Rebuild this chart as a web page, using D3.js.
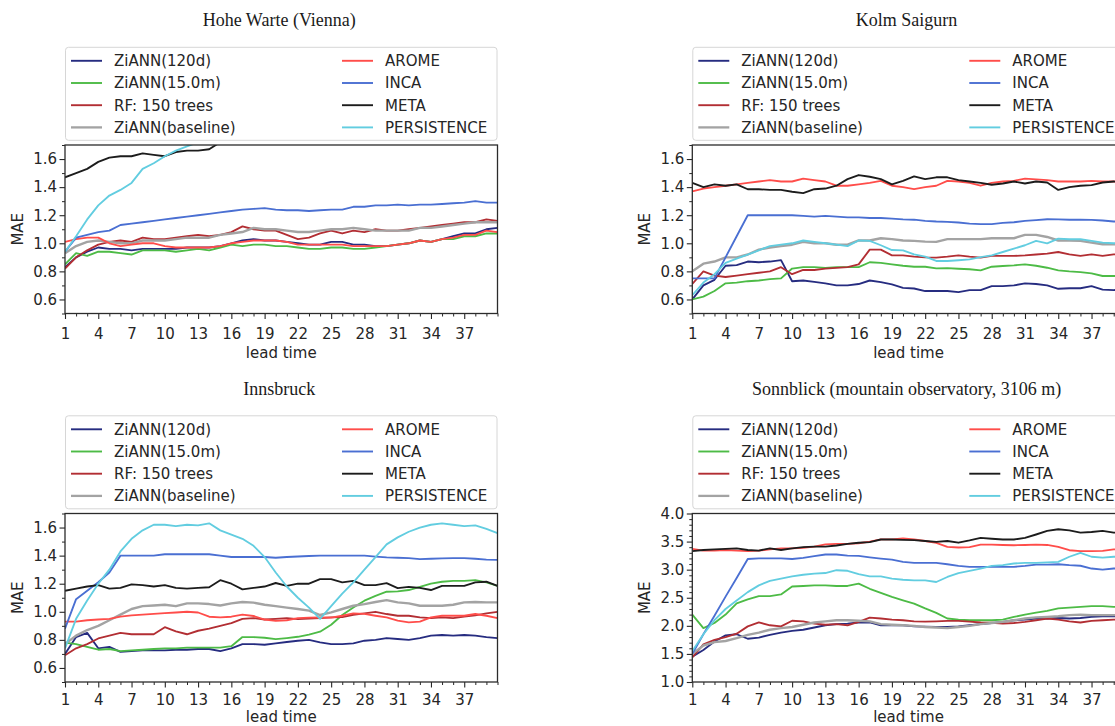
<!DOCTYPE html>
<html>
<head>
<meta charset="utf-8">
<script src="https://cdn.jsdelivr.net/npm/d3@7"></script>
<style>
  html, body { margin: 0; padding: 0; background: #fff; }
  svg { display: block; }
</style>
</head>
<body>
<svg id="chart" width="1115" height="726"></svg>
<script>
// ---- data -------------------------------------------------------------
const leadTimes = [1,2,3,4,5,6,7,8,9,10,11,12,13,14,15,16,17,18,19,20,
                   21,22,23,24,25,26,27,28,29,30,31,32,33,34,35,36,37,38,39,40];
const xTickLabels = [1,4,7,10,13,16,19,22,25,28,31,34,37];
const yTicksLowland = [0.6,0.8,1.0,1.2,1.4,1.6];
const yTicksSonnblick = [1.0,1.5,2.0,2.5,3.0,3.5,4.0];

const seriesNames = ["ZiANN(120d)","ZiANN(15.0m)","RF: 150 trees","ZiANN(baseline)",
                     "AROME","INCA","META","PERSISTENCE"];
const seriesColors = ["#262c80","#4dbb46","#b22e33","#a3a3a3",
                      "#ff4d4a","#4a6fd2","#1c1c1c","#62cde0"];

// Hohe Warte (Vienna)
const hohe120d = [0.83,0.90,0.94,0.97,0.96,0.96,0.95,0.96,0.96,0.96,0.96,0.97,0.97,0.97,0.98,1.00,1.02,1.03,1.02,1.02,
                  1.01,1.00,0.99,0.99,1.01,1.01,0.99,0.99,0.98,0.98,0.99,1.00,1.02,1.01,1.03,1.05,1.07,1.07,1.10,1.11];
const hohe15m  = [0.85,0.93,0.91,0.94,0.94,0.93,0.92,0.95,0.95,0.95,0.94,0.95,0.96,0.95,0.97,0.99,0.98,0.99,0.99,0.98,
                  0.98,0.97,0.96,0.96,0.97,0.97,0.96,0.96,0.97,0.98,0.99,1.00,1.02,1.01,1.03,1.03,1.05,1.05,1.07,1.07];
const hoheRF   = [0.82,0.90,0.95,0.99,1.01,1.02,1.01,1.04,1.03,1.03,1.04,1.05,1.06,1.05,1.06,1.08,1.12,1.10,1.09,1.09,
                  1.06,1.03,1.04,1.07,1.09,1.07,1.09,1.08,1.10,1.09,1.09,1.10,1.11,1.12,1.13,1.14,1.15,1.15,1.17,1.16];
const hoheBase = [0.93,0.98,1.01,1.02,1.01,1.00,1.00,1.02,1.02,1.02,1.03,1.04,1.04,1.04,1.06,1.07,1.08,1.11,1.10,1.10,
                  1.09,1.08,1.08,1.09,1.10,1.10,1.11,1.10,1.09,1.09,1.09,1.09,1.11,1.11,1.12,1.13,1.14,1.15,1.15,1.15];
const hoheArome= [1.01,1.03,1.04,1.04,1.00,0.98,0.99,1.00,1.00,0.98,0.97,0.97,0.97,0.97,0.98,1.00,1.01,1.02,1.02,1.02,
                  1.01,0.99,0.99,0.99,0.99,0.99,0.98,0.98,0.98,0.98,0.99,1.00,1.02,1.01,1.03,1.04,1.06,1.06,1.09,1.08];
const hoheInca = [0.94,1.04,1.06,1.08,1.09,1.13,1.14,1.15,1.16,1.17,1.18,1.19,1.20,1.21,1.22,1.23,1.24,1.245,1.25,1.24,
                  1.235,1.235,1.23,1.235,1.24,1.24,1.26,1.26,1.27,1.27,1.275,1.27,1.275,1.275,1.28,1.285,1.29,1.30,1.29,1.29];
const hoheMeta = [1.47,1.50,1.53,1.58,1.61,1.62,1.62,1.64,1.63,1.62,1.65,1.66,1.66,1.67,1.72,1.74,1.75,1.76,1.76,1.77,
                  1.78,1.78,1.79,1.80,1.80,1.81,1.81,1.82,1.82,1.83,1.83,1.84,1.84,1.85,1.85,1.86,1.86,1.87,1.87,1.88];
const hohePers = [0.94,1.05,1.17,1.27,1.34,1.38,1.43,1.53,1.57,1.62,1.66,1.69,1.72,1.75,1.78,1.81,1.84,1.87,1.90,1.92,
                  1.94,1.96,1.98,2.00,2.01,2.02,2.03,2.04,2.05,2.06,2.07,2.08,2.09,2.10,2.10,2.11,2.12,2.12,2.13,2.13];

// Kolm Saigurn
const kolm120d = [0.60,0.70,0.74,0.84,0.845,0.87,0.865,0.87,0.88,0.73,0.735,0.725,0.715,0.70,0.70,0.71,0.735,0.724,0.707,0.683,
                  0.678,0.66,0.66,0.66,0.652,0.667,0.667,0.695,0.695,0.70,0.714,0.71,0.70,0.676,0.68,0.68,0.695,0.67,0.667,0.67];
const kolm15m  = [0.60,0.62,0.66,0.715,0.72,0.73,0.735,0.745,0.75,0.82,0.83,0.83,0.825,0.83,0.83,0.83,0.865,0.86,0.85,0.84,
                  0.833,0.833,0.821,0.823,0.819,0.815,0.807,0.833,0.838,0.843,0.85,0.84,0.826,0.807,0.80,0.795,0.786,0.767,0.767,0.77];
const kolmRF   = [0.71,0.80,0.77,0.76,0.77,0.78,0.79,0.80,0.83,0.78,0.81,0.81,0.82,0.825,0.83,0.85,0.955,0.955,0.914,0.914,
                  0.905,0.90,0.898,0.905,0.914,0.905,0.898,0.91,0.91,0.91,0.914,0.92,0.926,0.938,0.921,0.91,0.921,0.91,0.921,0.92];
const kolmBase = [0.80,0.855,0.87,0.90,0.90,0.92,0.955,0.97,0.98,0.99,1.01,1.00,1.00,0.99,0.99,1.02,1.02,1.036,1.03,1.02,
                  1.017,1.012,1.01,1.03,1.03,1.03,1.03,1.036,1.036,1.036,1.06,1.06,1.045,1.02,1.02,1.017,1.005,0.993,0.993,0.99];
const kolmArome= [1.37,1.39,1.40,1.41,1.42,1.43,1.44,1.45,1.44,1.44,1.46,1.45,1.44,1.41,1.41,1.42,1.43,1.445,1.41,1.40,
                  1.386,1.40,1.41,1.445,1.44,1.43,1.41,1.43,1.44,1.445,1.46,1.455,1.45,1.44,1.44,1.44,1.445,1.44,1.44,1.44];
const kolmInca = [0.75,0.75,0.75,0.90,1.05,1.20,1.20,1.20,1.20,1.20,1.195,1.19,1.195,1.19,1.185,1.185,1.18,1.18,1.176,1.17,
                  1.168,1.16,1.155,1.152,1.148,1.14,1.136,1.136,1.145,1.15,1.16,1.165,1.171,1.17,1.168,1.168,1.167,1.162,1.155,1.155];
const kolmMeta = [1.43,1.40,1.42,1.41,1.42,1.385,1.385,1.38,1.38,1.367,1.357,1.385,1.39,1.41,1.457,1.486,1.474,1.457,1.42,1.445,
                  1.476,1.457,1.47,1.47,1.45,1.44,1.43,1.417,1.426,1.44,1.426,1.44,1.433,1.38,1.40,1.41,1.414,1.433,1.44,1.43];
const kolmPers = [0.63,0.72,0.78,0.86,0.89,0.92,0.95,0.98,0.99,1.00,1.02,1.01,1.00,0.99,0.98,1.02,1.017,0.986,0.952,0.95,
                  0.921,0.905,0.874,0.874,0.879,0.885,0.902,0.914,0.938,0.962,0.986,1.017,1.00,1.033,1.029,1.029,1.017,1.005,1.00,1.00];

// Innsbruck
const innsb120d = [0.70,0.82,0.85,0.74,0.75,0.715,0.72,0.725,0.725,0.725,0.73,0.73,0.735,0.735,0.72,0.74,0.77,0.77,0.765,0.775,
                   0.785,0.794,0.80,0.782,0.77,0.77,0.775,0.794,0.80,0.813,0.806,0.80,0.813,0.83,0.835,0.83,0.835,0.83,0.82,0.813];
const innsb15m  = [0.78,0.77,0.75,0.73,0.735,0.72,0.725,0.73,0.735,0.74,0.74,0.745,0.745,0.745,0.745,0.755,0.82,0.82,0.815,0.805,
                   0.813,0.822,0.837,0.858,0.908,0.977,1.031,1.079,1.114,1.143,1.145,1.155,1.178,1.20,1.214,1.22,1.22,1.226,1.21,1.185];
const innsbRF   = [0.69,0.74,0.77,0.81,0.83,0.85,0.84,0.84,0.84,0.89,0.86,0.84,0.865,0.88,0.90,0.92,0.95,0.955,0.945,0.95,
                   0.955,0.948,0.952,0.955,0.96,0.962,0.979,0.989,1.00,0.984,0.972,0.972,0.96,0.955,0.96,0.955,0.965,0.975,0.989,1.00];
const innsbBase = [0.77,0.83,0.87,0.90,0.94,0.98,1.02,1.04,1.045,1.05,1.04,1.06,1.06,1.055,1.045,1.06,1.07,1.065,1.05,1.04,
                   1.03,1.02,1.008,0.977,0.996,1.02,1.043,1.055,1.07,1.083,1.067,1.06,1.043,1.043,1.043,1.05,1.067,1.07,1.067,1.067];
const innsbArome= [0.93,0.93,0.94,0.945,0.95,0.965,0.975,0.98,0.985,0.99,0.995,1.00,0.995,0.965,0.96,0.965,0.98,0.97,0.945,0.935,
                   0.94,0.955,0.958,0.96,0.958,0.972,0.989,0.985,0.972,0.96,0.937,0.925,0.93,0.96,0.972,0.972,0.972,0.984,0.972,0.955];
const innsbInca = [0.88,1.09,1.15,1.21,1.28,1.40,1.40,1.40,1.40,1.41,1.41,1.41,1.41,1.41,1.40,1.39,1.39,1.39,1.39,1.385,
                   1.39,1.394,1.397,1.40,1.40,1.40,1.40,1.40,1.393,1.387,1.385,1.382,1.375,1.378,1.38,1.382,1.382,1.378,1.372,1.37];
const innsbMeta = [1.15,1.165,1.18,1.19,1.165,1.17,1.195,1.19,1.18,1.19,1.17,1.165,1.17,1.175,1.225,1.20,1.16,1.17,1.18,1.205,
                   1.185,1.20,1.20,1.233,1.233,1.21,1.22,1.19,1.19,1.204,1.169,1.178,1.17,1.155,1.185,1.185,1.185,1.21,1.214,1.185];
const innsbPers = [0.74,0.95,1.08,1.20,1.30,1.43,1.52,1.58,1.62,1.62,1.61,1.62,1.615,1.63,1.58,1.55,1.52,1.47,1.39,1.28,
                   1.18,1.10,1.03,0.95,1.04,1.13,1.21,1.30,1.39,1.48,1.53,1.57,1.60,1.62,1.63,1.62,1.61,1.615,1.59,1.56];

// Sonnblick (mountain observatory, 3106 m)
const sonn120d = [1.45,1.57,1.72,1.83,1.85,1.77,1.79,1.84,1.88,1.91,1.93,1.97,2.01,2.03,2.04,2.06,2.06,2.01,2.01,2.01,
                  1.99,1.985,1.98,1.98,1.99,2.01,2.03,2.05,2.07,2.10,2.11,2.13,2.13,2.14,2.13,2.14,2.16,2.17,2.17,2.17];
const sonn15m  = [2.20,1.96,2.05,2.20,2.40,2.47,2.53,2.53,2.56,2.70,2.71,2.72,2.72,2.71,2.71,2.75,2.66,2.586,2.515,2.455,
                  2.396,2.31,2.23,2.13,2.11,2.10,2.10,2.10,2.11,2.158,2.20,2.235,2.265,2.31,2.325,2.337,2.35,2.35,2.337,2.34];
const sonnRF   = [1.44,1.67,1.75,1.80,1.86,1.99,2.06,2.01,1.99,2.09,2.08,2.04,2.02,2.03,2.01,2.07,2.147,2.13,2.11,2.10,
                  2.08,2.075,2.08,2.087,2.087,2.075,2.06,2.055,2.04,2.05,2.07,2.10,2.13,2.11,2.08,2.06,2.087,2.10,2.11,2.11];
const sonnBase = [1.50,1.65,1.71,1.73,1.78,1.84,1.88,1.93,1.96,1.98,2.02,2.06,2.08,2.10,2.10,2.09,2.08,2.03,2.02,2.01,
                  2.00,1.98,1.97,1.96,1.98,2.00,2.03,2.05,2.07,2.10,2.13,2.15,2.16,2.17,2.19,2.20,2.19,2.19,2.19,2.19];
const sonnArome= [3.37,3.34,3.34,3.35,3.34,3.33,3.34,3.36,3.38,3.38,3.39,3.41,3.45,3.46,3.46,3.47,3.50,3.54,3.54,3.555,
                  3.54,3.51,3.477,3.405,3.394,3.40,3.447,3.447,3.44,3.435,3.44,3.447,3.44,3.405,3.346,3.33,3.33,3.335,3.36,3.36];
const sonnInca = [1.50,1.85,2.18,2.52,2.85,3.19,3.20,3.20,3.20,3.19,3.21,3.24,3.27,3.27,3.25,3.245,3.22,3.198,3.18,3.14,
                  3.12,3.12,3.12,3.097,3.067,3.05,3.05,3.05,3.05,3.05,3.067,3.09,3.09,3.097,3.08,3.07,3.02,3.00,3.02,3.02];
const sonnMeta = [3.33,3.35,3.36,3.37,3.38,3.35,3.34,3.38,3.35,3.38,3.40,3.41,3.41,3.43,3.46,3.48,3.49,3.537,3.537,3.53,
                  3.525,3.51,3.495,3.51,3.48,3.52,3.566,3.55,3.537,3.537,3.566,3.626,3.69,3.72,3.70,3.66,3.67,3.69,3.66,3.66];
const sonnPers = [1.55,1.85,2.10,2.30,2.45,2.60,2.72,2.80,2.84,2.88,2.91,2.93,2.94,2.99,2.98,2.92,2.88,2.88,2.84,2.82,
                  2.81,2.81,2.78,2.87,2.94,2.98,3.02,3.067,3.08,3.11,3.12,3.12,3.13,3.14,3.23,3.30,3.23,3.215,3.23,3.23];

const panels = [
  { title: "Hohe Warte (Vienna)", col: 0, row: 0, yDomain: [0.5, 1.7], yTicks: yTicksLowland, yMinorStep: 0.1,
    series: [hohe120d, hohe15m, hoheRF, hoheBase, hoheArome, hoheInca, hoheMeta, hohePers] },
  { title: "Kolm Saigurn", col: 1, row: 0, yDomain: [0.5, 1.7], yTicks: yTicksLowland, yMinorStep: 0.1,
    series: [kolm120d, kolm15m, kolmRF, kolmBase, kolmArome, kolmInca, kolmMeta, kolmPers] },
  { title: "Innsbruck", col: 0, row: 1, yDomain: [0.5, 1.7], yTicks: yTicksLowland, yMinorStep: 0.1,
    series: [innsb120d, innsb15m, innsbRF, innsbBase, innsbArome, innsbInca, innsbMeta, innsbPers] },
  { title: "Sonnblick (mountain observatory, 3106 m)", col: 1, row: 1, yDomain: [1.0, 4.0], yTicks: yTicksSonnblick, yMinorStep: 0.1,
    series: [sonn120d, sonn15m, sonnRF, sonnBase, sonnArome, sonnInca, sonnMeta, sonnPers] }
];

// ---- layout -----------------------------------------------------------
const colLeft = [65, 692.3];
const plotWidth = 432.5;
const rowTop = [145, 513.5];
const plotHeight = 168.5;
// the lower row sits close to the page edge, so its x labels are packed a little tighter
const xLabelPad = [9.5, 6.7];
const xTitleOffset = [44, 40.3];
const sansFont = "'DejaVu Sans', sans-serif";
const serifFont = "'Liberation Serif', 'Times New Roman', serif";
const inkColor = "#262626";

const svg = d3.select("#chart");
svg.append("rect").attr("width", 1115).attr("height", 726).attr("fill", "#fff");

panels.forEach((p, pi) => {
  const left = colLeft[p.col];
  const top = rowTop[p.row];
  const x = d3.scaleLinear().domain([1, 40]).range([left, left + plotWidth]);
  const y = d3.scaleLinear().domain(p.yDomain).range([top + plotHeight, top]);
  const g = svg.append("g");

  // title
  g.append("text")
    .attr("x", left + plotWidth / 2 - 2)
    .attr("y", top - 119)
    .attr("text-anchor", "middle")
    .attr("font-family", serifFont)
    .attr("font-size", 18)
    .attr("fill", "#1a1a1a")
    .text(p.title);

  // legend
  const legTop = top - 97.7;
  const lg = g.append("g");
  lg.append("rect")
    .attr("x", left + 0.5).attr("y", legTop)
    .attr("width", plotWidth - 1).attr("height", 93)
    .attr("rx", 3).attr("ry", 3)
    .attr("fill", "#fff").attr("fill-opacity", 0.8)
    .attr("stroke", "#d6d6d6").attr("stroke-width", 1);
  seriesNames.forEach((name, si) => {
    const c = Math.floor(si / 4), r = si % 4;
    const ly = legTop + 13.5 + r * 22.2;
    const lx = left + (c === 0 ? 6 : 277);
    lg.append("line")
      .attr("x1", lx).attr("x2", lx + 31)
      .attr("y1", ly).attr("y2", ly)
      .attr("stroke", seriesColors[si])
      .attr("stroke-width", si === 3 ? 2.3 : 1.9);
    lg.append("text")
      .attr("x", lx + 43).attr("y", ly)
      .attr("dy", "0.36em")
      .attr("font-family", sansFont)
      .attr("font-size", 15)
      .attr("fill", inkColor)
      .text(name);
  });

  // clip region for the lines
  const clipId = "plot-clip-" + pi;
  svg.append("clipPath").attr("id", clipId)
    .append("rect")
    .attr("x", left).attr("y", top)
    .attr("width", plotWidth).attr("height", plotHeight);

  const line = d3.line()
    .x((d, i) => x(leadTimes[i]))
    .y(d => y(d));

  const lines = g.append("g").attr("clip-path", `url(#${clipId})`);
  p.series.forEach((vals, si) => {
    lines.append("path")
      .datum(vals)
      .attr("d", line)
      .attr("fill", "none")
      .attr("stroke", seriesColors[si])
      .attr("stroke-width", si === 3 ? 2.4 : 1.85)
      .attr("stroke-linejoin", "round");
  });

  // x axis: labelled major ticks plus a minor tick at every lead time
  const xMinor = leadTimes.filter(t => !xTickLabels.includes(t));
  g.append("g")
    .attr("transform", `translate(0,${top + plotHeight})`)
    .call(d3.axisBottom(x).tickValues(xMinor).tickSize(3).tickFormat(""))
    .call(a => a.select(".domain").remove())
    .call(a => a.selectAll("line").attr("stroke", inkColor).attr("stroke-width", 1));
  g.append("g")
    .attr("transform", `translate(0,${top + plotHeight})`)
    .call(d3.axisBottom(x).tickValues(xTickLabels).tickSize(5.5).tickPadding(xLabelPad[p.row]).tickFormat(d3.format("d")))
    .call(a => a.select(".domain").remove())
    .call(a => a.selectAll("line").attr("stroke", inkColor).attr("stroke-width", 1.1))
    .call(a => a.selectAll("text").attr("font-family", sansFont).attr("font-size", 15).attr("fill", inkColor));

  // y axis
  const [y0, y1] = p.yDomain;
  const yMinor = d3.range(Math.round((y1 - y0) / p.yMinorStep) + 1)
    .map(k => +(y0 + k * p.yMinorStep).toFixed(3))
    .filter(v => !p.yTicks.some(t => Math.abs(t - v) < 1e-6));
  g.append("g")
    .attr("transform", `translate(${left},0)`)
    .call(d3.axisLeft(y).tickValues(yMinor).tickSize(3).tickFormat(""))
    .call(a => a.select(".domain").remove())
    .call(a => a.selectAll("line").attr("stroke", inkColor).attr("stroke-width", 1));
  g.append("g")
    .attr("transform", `translate(${left},0)`)
    .call(d3.axisLeft(y).tickValues(p.yTicks).tickSize(5.5).tickPadding(2.5).tickFormat(d3.format(".1f")))
    .call(a => a.select(".domain").remove())
    .call(a => a.selectAll("line").attr("stroke", inkColor).attr("stroke-width", 1.1))
    .call(a => a.selectAll("text").attr("font-family", sansFont).attr("font-size", 15).attr("fill", inkColor));

  // frame
  g.append("rect")
    .attr("x", left).attr("y", top)
    .attr("width", plotWidth).attr("height", plotHeight)
    .attr("fill", "none")
    .attr("stroke", "#2b2b2b").attr("stroke-width", 1.3);

  // axis titles
  g.append("text")
    .attr("x", left + plotWidth / 2)
    .attr("y", top + plotHeight + xTitleOffset[p.row])
    .attr("text-anchor", "middle")
    .attr("font-family", sansFont)
    .attr("font-size", 15)
    .attr("fill", inkColor)
    .text("lead time");
  g.append("text")
    .attr("transform", `translate(${left - 42},${top + plotHeight / 2}) rotate(-90)`)
    .attr("text-anchor", "middle")
    .attr("font-family", sansFont)
    .attr("font-size", 15)
    .attr("fill", inkColor)
    .text("MAE");
});
</script>
</body>
</html>
